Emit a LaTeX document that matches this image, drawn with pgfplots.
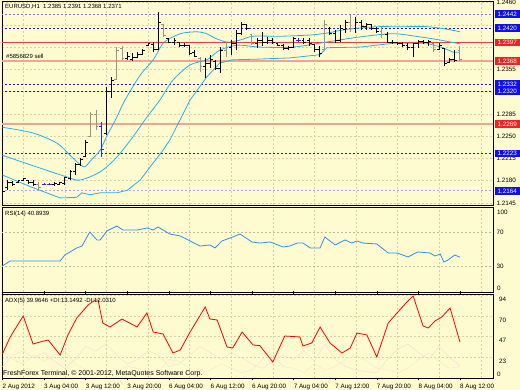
\documentclass[border=0pt]{standalone}
\usepackage{fontspec}
\setmainfont{Liberation Sans}
\usepackage{pgfplots}
\usepackage{pgfplotstable}
\pgfplotsset{compat=1.18}

\definecolor{bg}{RGB}{255,251,208}
\definecolor{gridc}{RGB}{218,210,160}
\definecolor{bandc}{RGB}{40,176,235}
\definecolor{rsic}{RGB}{45,145,240}
\definecolor{lvlblue}{RGB}{25,25,235}
\definecolor{lvllight}{RGB}{120,120,240}
\definecolor{lvllav}{RGB}{170,165,230}
\definecolor{lvlred}{RGB}{245,55,55}
\definecolor{salmon}{RGB}{240,165,145}
\definecolor{barg}{RGB}{150,150,128}
\definecolor{barb}{RGB}{40,40,230}
\definecolor{boxblue}{RGB}{15,15,240}
\definecolor{boxred}{RGB}{240,35,35}
\definecolor{dip}{RGB}{250,222,212}
\definecolor{dim}{RGB}{250,230,205}
\definecolor{lvlgray}{RGB}{190,188,160}

\newcommand\tf{\fontsize{6.3}{7}\selectfont}

\pgfplotstableread{
i O H L C
0 1.2156 1.2165 1.2154 1.2164
1 1.2169 1.2181 1.2165 1.2178
2 1.2178 1.2180 1.2172 1.2175
3 1.2177 1.2181 1.2176 1.2180
4 1.2180 1.2184 1.2179 1.2183
5 1.2180 1.2181 1.2175 1.2177
6 1.2178 1.2181 1.2172 1.2174
10 1.2174 1.2178 1.2172 1.2176
11 1.2175 1.2178 1.2173 1.2177
12 1.2176 1.2186 1.2173 1.2185
13 1.2184 1.2197 1.2181 1.2195
14 1.2194 1.2208 1.2189 1.2205
15 1.2205 1.2216 1.2203 1.2213
16 1.2219 1.2244 1.2217 1.2241
20 1.2255 1.2327 1.2252 1.2320
21 1.2320 1.2343 1.2310 1.2338
24 1.2372 1.2382 1.2370 1.2375
25 1.2371 1.2381 1.2368 1.2373
26 1.2373 1.2382 1.2373 1.2379
27 1.2379 1.2387 1.2378 1.2385
28 1.2393 1.2396 1.2392 1.2395
29 1.2394 1.2398 1.2382 1.2386
30 1.2387 1.2445 1.2385 1.2428
32 1.2403 1.2404 1.2396 1.2398
33 1.2398 1.2404 1.2393 1.2400
34 1.2397 1.2398 1.2390 1.2392
35 1.2392 1.2396 1.2390 1.2393
36 1.2392 1.2393 1.2378 1.2380
37 1.2381 1.2385 1.2374 1.2376
39 1.2360 1.2373 1.2341 1.2365
40 1.2365 1.2378 1.2357 1.2370
41 1.2368 1.2370 1.2354 1.2357
42 1.2357 1.2390 1.2349 1.2385
44 1.2390 1.2401 1.2378 1.2396
45 1.2396 1.2417 1.2385 1.2412
46 1.2412 1.2429 1.2409 1.2425
47 1.2425 1.2425 1.2417 1.2420
49 1.2395 1.2404 1.2389 1.2400
50 1.2400 1.2414 1.2392 1.2398
51 1.2398 1.2406 1.2395 1.2400
52 1.2400 1.2404 1.2395 1.2398
53 1.2395 1.2396 1.2392 1.2393
54 1.2393 1.2395 1.2385 1.2388
55 1.2388 1.2392 1.2385 1.2389
56 1.2389 1.2406 1.2389 1.2403
58 1.2401 1.2404 1.2395 1.2398
59 1.2400 1.2404 1.2392 1.2395
60 1.2394 1.2395 1.2382 1.2386
61 1.2386 1.2392 1.2374 1.2380
63 1.2420 1.2422 1.2409 1.2412
64 1.2412 1.2417 1.2396 1.2400
65 1.2400 1.2425 1.2398 1.2420
66 1.2418 1.2433 1.2412 1.2428
68 1.2420 1.2437 1.2412 1.2428
69 1.2428 1.2433 1.2417 1.2422
70 1.2422 1.2428 1.2417 1.2425
71 1.2425 1.2425 1.2417 1.2420
72 1.2420 1.2422 1.2412 1.2415
74 1.2410 1.2414 1.2396 1.2398
75 1.2398 1.2401 1.2395 1.2397
76 1.2397 1.2398 1.2393 1.2396
77 1.2396 1.2398 1.2390 1.2392
78 1.2392 1.2396 1.2385 1.2390
79 1.2390 1.2396 1.2374 1.2395
80 1.2395 1.2401 1.2389 1.2399
81 1.2399 1.2401 1.2395 1.2397
82 1.2397 1.2401 1.2392 1.2399
84 1.2386 1.2396 1.2385 1.2393
85 1.2388 1.2389 1.2360 1.2364
86 1.2366 1.2373 1.2365 1.2370
87 1.2370 1.2385 1.2367 1.2369
}\barsK

\pgfplotstableread{
i O H L C
7 1.2175 1.2178 1.2165 1.2170
17 1.2250 1.2288 1.2249 1.2285
18 1.2285 1.2291 1.2260 1.2265
22 1.2340 1.2390 1.2338 1.2385
23 1.2388 1.2392 1.2370 1.2372
31 1.2425 1.2426 1.2406 1.2408
38 1.2372 1.2374 1.2351 1.2360
43 1.2385 1.2398 1.2374 1.2390
48 1.2410 1.2411 1.2393 1.2395
62 1.2386 1.2433 1.2385 1.2425
67 1.2428 1.2440 1.2414 1.2420
73 1.2415 1.2422 1.2404 1.2410
83 1.2395 1.2396 1.2382 1.2386
88 1.2385 1.2391 1.2368 1.2371
}\barsG

\pgfplotstableread{
i O H L C
8 1.2175 1.2177 1.2173 1.2175
9 1.2175 1.2177 1.2173 1.2175
19 1.2265 1.2272 1.2217 1.2230
57 1.2401 1.2404 1.2398 1.2401
}\barsB

\pgfplotsset{
  panel/.style={
    scale only axis, width=491pt, xmin=-0.08, xmax=94.35,
    axis line style={black, line width=0.7pt},
    grid style={gridc, dash pattern=on 2pt off 2pt, line width=0.5pt},
    tick style={draw=none},
    ticklabel style={font=\tf},
    yticklabel pos=right,
    yticklabel style={inner sep=0pt, xshift=3.5pt},
    /pgf/number format/assume math mode=true,
    clip mode=individual,
  },
  hl/.style={forget plot, draw=none, mark=none,
    error bars/.cd, y dir=plus, y explicit, error mark=none,
    error bar style={draw=#1, line width=1pt, solid}},
  otick/.style={forget plot, draw=none, mark=none,
    error bars/.cd, x dir=minus, x fixed=0.45, error mark=none,
    error bar style={draw=#1, line width=0.8pt, solid}},
  ctick/.style={forget plot, draw=none, mark=none,
    error bars/.cd, x dir=plus, x fixed=0.45, error mark=none,
    error bar style={draw=#1, line width=0.8pt, solid}},
}
\tikzset{box/.style={fill=#1, text=white, anchor=west, inner sep=0pt,
  minimum width=24.5pt, minimum height=7.6pt, font=\tf}}

\begin{document}
\begin{tikzpicture}
\useasboundingbox (0,0) rectangle (520pt,390pt);
\fill[bg] (0,0) rectangle (520pt,390pt);

% ---------------- main price panel ----------------
\begin{axis}[panel, at={(2pt,185pt)}, anchor=south west, height=204pt,
  ymin=1.21419, ymax=1.24624,
  xtick={4,12,...,92}, xticklabels={}, xmajorgrids, ymajorgrids,
  ytick={1.2145,1.2180,1.2215,1.2250,1.2285,1.2320,1.2355,1.2390,1.2425,1.2460},
  yticklabels={1.2145,1.2180,1.2215,1.2250,1.2285,{},1.2355,{},{},1.2460}]
% level lines
\addplot[lvllight, line width=0.8pt, dash pattern=on 2pt off 2pt] coordinates {(-1,1.2442)(95,1.2442)};
\addplot[lvlblue, line width=0.9pt, dash pattern=on 2pt off 2pt] coordinates {(-1,1.2420)(95,1.2420)};
\addplot[lvlblue, line width=0.9pt, dash pattern=on 2pt off 2pt] coordinates {(-1,1.2332)(95,1.2332)};
\addplot[lvlblue, line width=0.9pt, dash pattern=on 2pt off 2pt] coordinates {(-1,1.2320)(95,1.2320)};
\addplot[lvlblue, line width=0.9pt, dash pattern=on 2pt off 2pt] coordinates {(-1,1.2223)(95,1.2223)};
\addplot[lvllav, line width=0.9pt, dash pattern=on 2pt off 2pt] coordinates {(-1,1.2164)(95,1.2164)};
\addplot[lvlred, line width=0.9pt] coordinates {(-1,1.2397)(95,1.2397)};
\addplot[salmon, line width=1.5pt] coordinates {(-1,1.2368)(95,1.2368)};
\addplot[salmon, line width=1.5pt] coordinates {(-1,1.2269)(95,1.2269)};
% Bollinger bands
\addplot[bandc, line width=0.8pt, smooth] coordinates {(0,1.2264)(5.9,1.2255)(10.5,1.2239)(13,1.2220)(15,1.2205)(15.9,1.2202)(16.8,1.2210)(18.8,1.2228)(20,1.2249)(21.7,1.2275)(23.6,1.2307)(26.5,1.2346)(29,1.2370)(30.9,1.2396)(32.8,1.2406)(34.7,1.2412)(37.4,1.2414)(39.3,1.2411)(40.9,1.2404)(43.2,1.2398)(45.7,1.2401)(48.2,1.2407)(53.4,1.2407)(59.2,1.2409)(62.4,1.2412)(65.5,1.2417)(68.8,1.2420)(72,1.2422)(76.5,1.2422)(81.7,1.2422)(85.5,1.2418)(88,1.2414)};
\addplot[bandc, line width=0.8pt, smooth] coordinates {(0,1.2220)(7.2,1.2200)(12.4,1.2186)(14.9,1.2181)(18.8,1.2194)(22,1.2217)(25.1,1.2249)(27.8,1.2280)(30.3,1.2307)(32.8,1.2338)(36.1,1.2362)(39.3,1.2370)(41.8,1.2385)(45.1,1.2393)(49.5,1.2390)(55.9,1.2390)(62.4,1.2398)(68.8,1.2406)(75.1,1.2411)(80.3,1.2406)(84.2,1.2401)(88,1.2395)};
\addplot[bandc, line width=0.8pt] coordinates {(0,1.2189)(5.9,1.2169)(11.1,1.2153)(14.3,1.2154)(15.3,1.2161)(16.8,1.2158)(18.8,1.2161)(22,1.2161)(24,1.2165)(26.5,1.2181)(29,1.2208)(30.9,1.2228)(32.2,1.2244)(36.1,1.2307)(39.3,1.2343)(41.8,1.2365)(44.3,1.2370)(48.9,1.2371)(55.3,1.2373)(61.1,1.2378)(62.4,1.2389)(68.8,1.2390)(75.1,1.2396)(81.7,1.2396)(84.7,1.2389)(86.7,1.2382)(88,1.2382)};
% OHLC bars
\addplot[hl=black] table[x=i, y=L, y error expr=\thisrow{H}-\thisrow{L}] {\barsK};
\addplot[otick=black] table[x=i, y=O] {\barsK};
\addplot[ctick=black] table[x=i, y=C] {\barsK};
\addplot[hl=barg] table[x=i, y=L, y error expr=\thisrow{H}-\thisrow{L}] {\barsG};
\addplot[otick=barg] table[x=i, y=O] {\barsG};
\addplot[ctick=barg] table[x=i, y=C] {\barsG};
\addplot[hl=barb] table[x=i, y=L, y error expr=\thisrow{H}-\thisrow{L}] {\barsB};
\addplot[otick=barb] table[x=i, y=O] {\barsB};
\addplot[ctick=barb] table[x=i, y=C] {\barsB};
% right-hand level boxes
\node[box=boxblue] at (axis cs:94.7,1.2442) {1.2442};
\node[box=boxblue] at (axis cs:94.7,1.2420) {1.2420};
\node[box=boxred]  at (axis cs:94.7,1.2397) {1.2397};
\node[box=boxred]  at (axis cs:94.7,1.2368) {1.2368};
\node[box=boxblue] at (axis cs:94.7,1.2332) {1.2332};
\node[box=boxblue] at (axis cs:94.7,1.2320) {1.2320};
\node[box=boxred]  at (axis cs:94.7,1.2269) {1.2269};
\node[box=boxblue] at (axis cs:94.7,1.2223) {1.2223};
\node[box=boxblue] at (axis cs:94.7,1.2164) {1.2164};
\end{axis}

% ---------------- RSI panel ----------------
\begin{axis}[panel, at={(2pt,98pt)}, anchor=south west, height=85pt,
  ymin=0, ymax=100,
  xtick={4,12,...,92}, xticklabels={}, xmajorgrids,
  ytick={30,70}, yticklabels={30,70}]
\addplot[lvlgray, line width=0.6pt, dash pattern=on 2pt off 2pt] coordinates {(-1,30)(95,30)};
\addplot[lvlgray, line width=0.6pt, dash pattern=on 2pt off 2pt] coordinates {(-1,70)(95,70)};
\addplot[rsic, line width=0.8pt] coordinates {(0,30.6)(1.5,36.5)(5.3,36.5)(11.1,36.5)(12,43.5)(14.3,51.8)(15.3,54.1)(16.8,70.6)(18.2,61.2)(18.8,61.2)(20.1,71.8)(22,77.6)(23.2,72.9)(25.9,72.9)(27.8,75.3)(29,72.9)(29.9,76.5)(32.2,68.2)(34.2,65.9)(38,54.1)(39.9,55.3)(40.9,51.8)(42.2,60.0)(44.3,64.7)(45.7,68.2)(48,58.8)(49.5,57.6)(51.5,58.8)(54,52.9)(55.3,54.1)(56.7,57.6)(57.8,57.6)(59.2,51.8)(61.1,51.8)(62,64.7)(64,55.3)(65.9,61.2)(67.2,57.6)(68.2,60.0)(69.3,57.6)(72,56.5)(74.2,45.9)(75.9,45.9)(78,41.2)(79.9,47.1)(82.2,45.9)(83.2,42.4)(84.2,44.7)(84.9,35.3)(85.7,37.6)(87,43.5)(88,40.9)};
\end{axis}

% ---------------- ADX panel ----------------
\begin{axis}[panel, at={(2pt,12pt)}, anchor=south west, height=84pt,
  ymin=-1.15, ymax=95.2,
  xtick={0,8,...,88},
  xticklabels={2 Aug 2012,3 Aug 04:00,3 Aug 12:00,3 Aug 20:00,6 Aug 04:00,6 Aug 12:00,6 Aug 20:00,7 Aug 04:00,7 Aug 12:00,7 Aug 20:00,8 Aug 04:00,8 Aug 12:00},
  xticklabel style={anchor=north west, inner sep=0pt, xshift=0pt, yshift=-3pt},
  every x tick/.append style={draw=black, line width=0.5pt},
  major tick length=2.5pt, tick align=outside,
  extra x ticks={4,12,...,92}, extra x tick labels={},
  extra x tick style={grid=major, major tick length=0pt},
  ytick={23,47,70,94}, yticklabels={23,47,70,94}, ymajorgrids,
  yticklabel style={yshift=-4.5pt}]
\addplot[dip, line width=0.5pt] coordinates {(0,12)(2,25)(4,30)(6,22)(8,28)(10,18)(12,10)(14,20)(16,35)(18,30)(20,38)(22,25)(24,15)(26,20)(28,30)(30,25)(32,12)(34,15)(36,25)(38,35)(40,28)(42,20)(44,28)(46,22)(48,15)(50,10)(52,18)(54,25)(56,20)(58,30)(60,18)(62,38)(64,20)(66,12)(68,8)(70,6)(72,5)(74,20)(76,32)(78,38)(80,28)(82,20)(84,35)(86,22)(88,13.15)};
\addplot[dim, line width=0.5pt] coordinates {(0,30)(2,20)(4,15)(6,25)(8,18)(10,25)(12,30)(14,15)(16,8)(18,5)(20,6)(22,8)(24,12)(26,10)(28,8)(30,5)(32,20)(34,18)(36,10)(38,5)(40,8)(42,15)(44,10)(46,5)(48,8)(50,20)(52,25)(54,12)(56,10)(58,5)(60,15)(62,8)(64,12)(66,20)(68,25)(70,18)(72,10)(74,8)(76,5)(78,10)(80,20)(82,28)(84,18)(86,10)(88,12.03)};
\addplot[red, line width=0.8pt] coordinates {(0,26.4)(1.5,45.9)(4,70.0)(5.9,37.8)(7.2,40.1)(8.8,42.4)(11.1,25.2)(12.6,48.2)(14.3,67.7)(16.5,82.6)(17.8,88.3)(18.4,88.3)(19.3,61.9)(20.7,57.3)(23,66.5)(25.9,57.3)(27.8,73.4)(29,51.6)(30.9,49.3)(32.8,27.5)(34.2,31.0)(36.1,51.6)(39,80.3)(39.9,66.5)(41.3,65.4)(43.2,34.4)(44.3,33.3)(46.1,51.6)(48.2,36.7)(49.5,36)(52,17.2)(54.3,47.0)(57.2,45.9)(57.8,35.6)(59.5,39.0)(61.1,57.3)(63,39.0)(65.3,27.5)(66.9,33.3)(68.2,50.5)(70.1,48.2)(72,22.9)(74.2,61.9)(75.9,73.4)(77.8,86.0)(79,92.9)(80.9,58.5)(81.9,56.2)(83.2,64.2)(84.5,68.8)(86.1,79.1)(88,40.0)};
\end{axis}

% texts
\node[anchor=west, inner sep=0pt, font=\fontsize{6}{7}\selectfont] at (5pt,383.7pt) {EURUSD,H1\ \ 1.2385 1.2391 1.2368 1.2371};
\node[anchor=west, inner sep=0pt, font=\fontsize{6}{7}\selectfont] at (6pt,333.3pt) {\#5856829 sell};
\node[anchor=west, inner sep=0pt, font=\fontsize{6}{7}\selectfont] at (5pt,175.7pt) {RSI(14) 40.8939};
\node[anchor=west, inner sep=0pt, font=\fontsize{6}{7}\selectfont] at (5pt,89.3pt) {ADX(5) 39.9646 +DI:13.1492 -DI:12.0310};
\node[anchor=west, inner sep=0pt, font=\tf] at (497pt,178pt) {100};
\node[anchor=west, inner sep=0pt, font=\tf] at (497pt,102pt) {0};
\node[anchor=west, inner sep=0pt, font=\tf] at (497pt,16pt) {0};
\node[anchor=west, inner sep=0pt, font=\fontsize{7}{8}\selectfont] at (3pt,16pt) {FreshForex Terminal, © 2001-2012, MetaQuotes Software Corp.};
\end{tikzpicture}
\end{document}
